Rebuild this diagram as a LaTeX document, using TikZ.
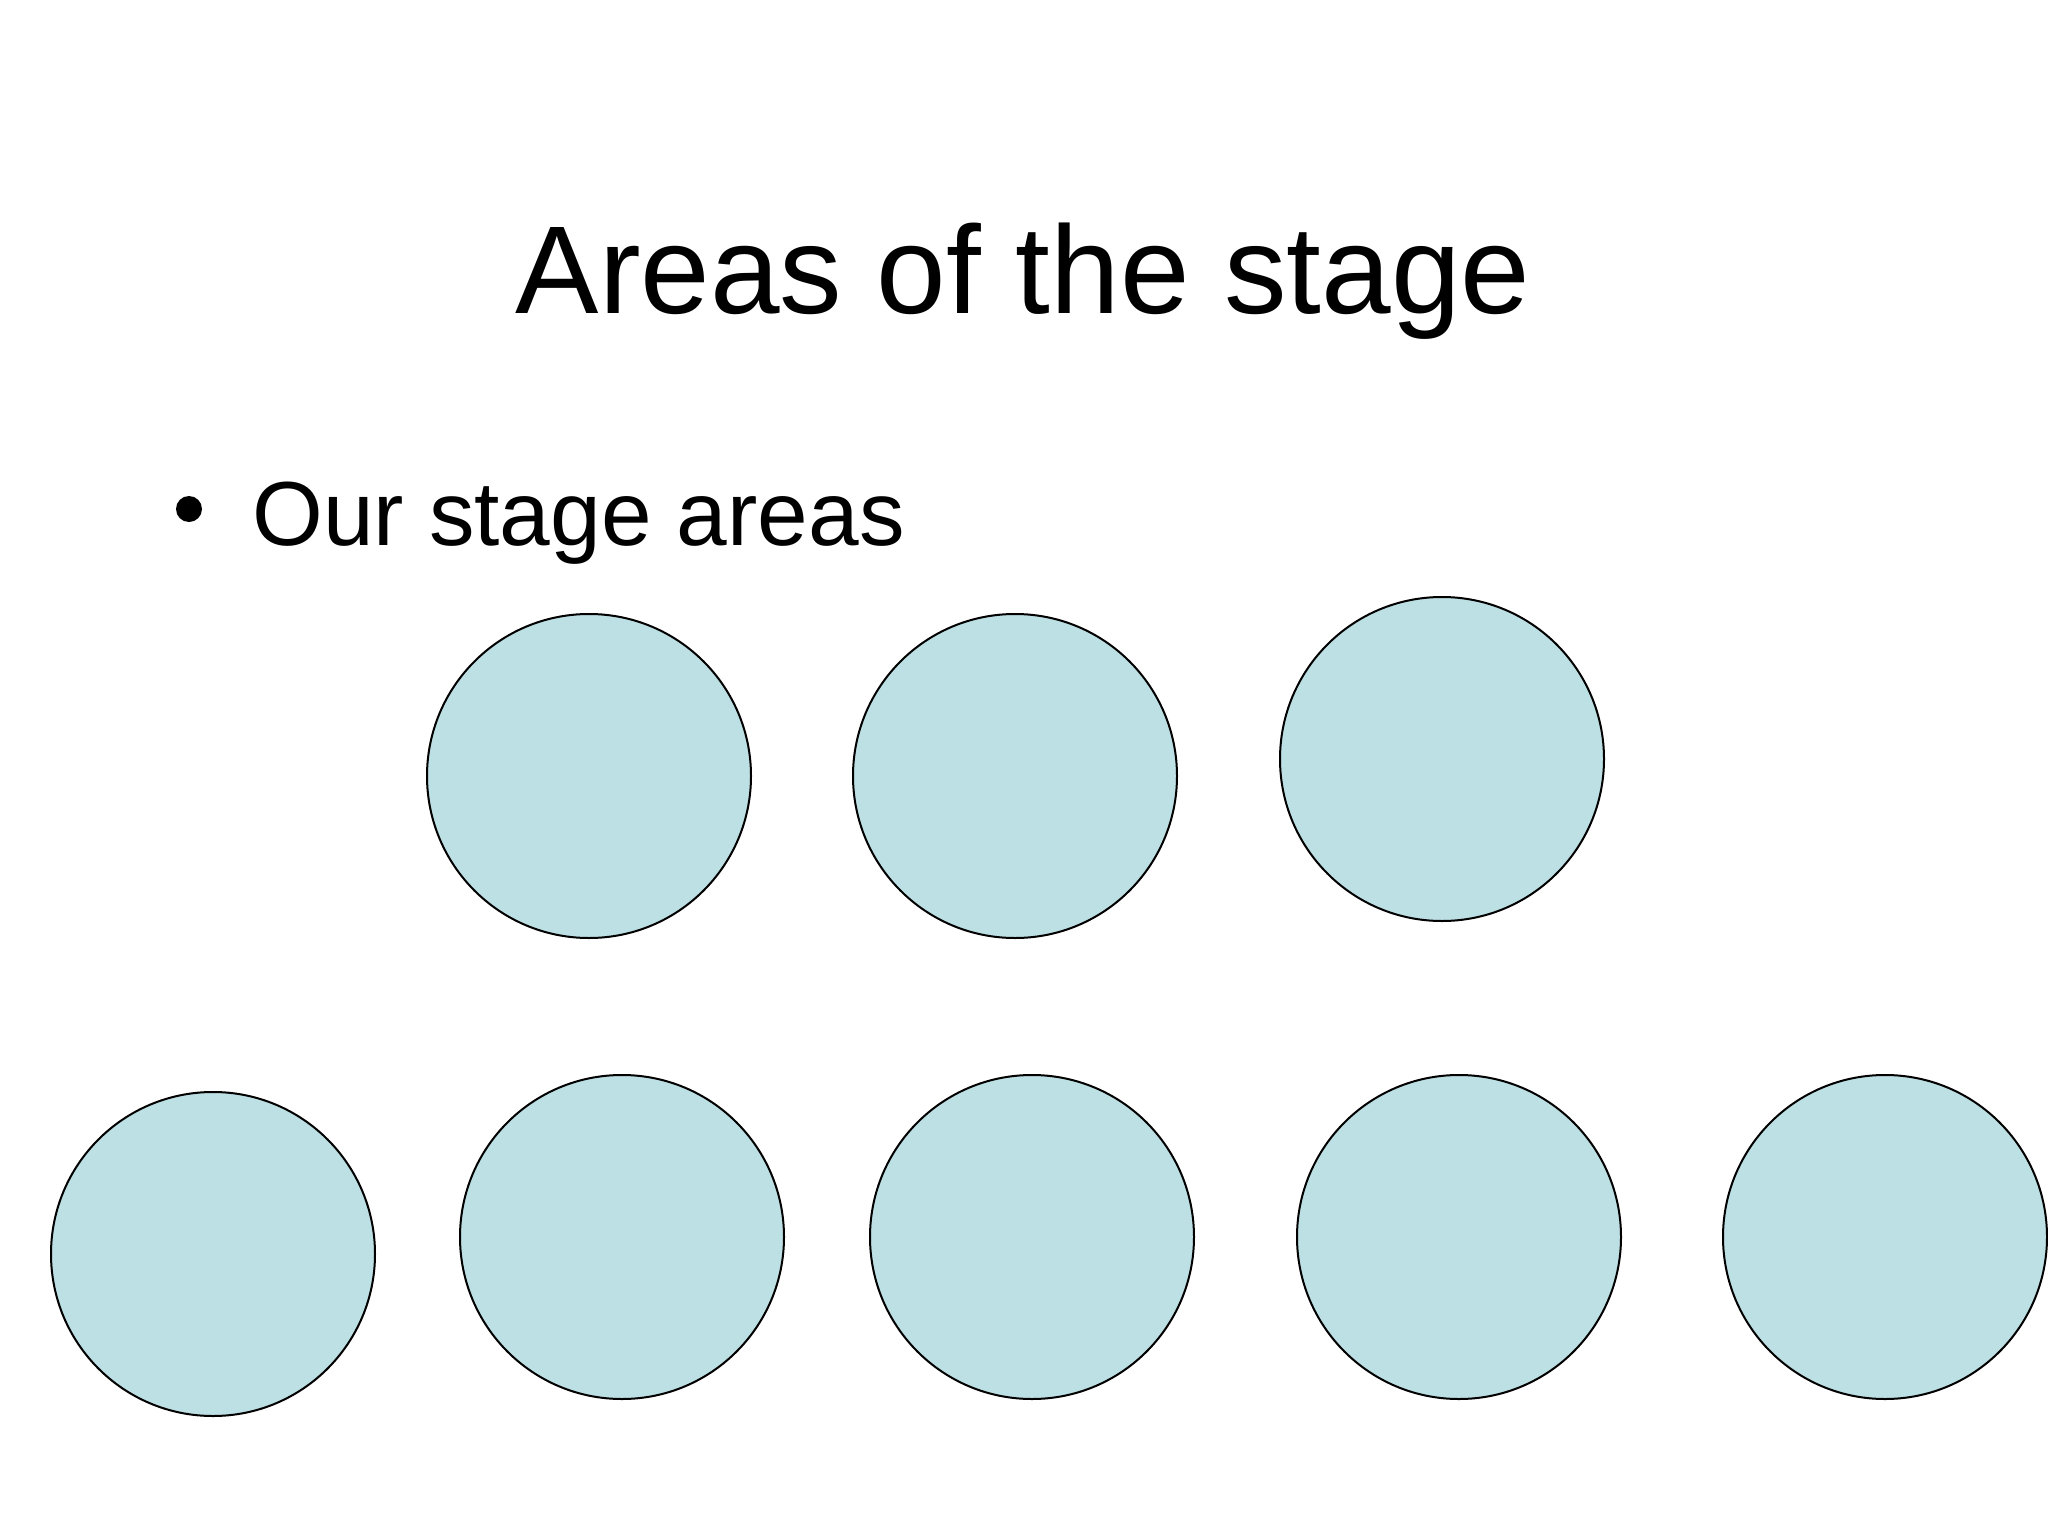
\documentclass[tikz,border=0pt]{standalone}
\usepackage{fontspec}
\setmainfont{Liberation Sans}
\definecolor{areafill}{RGB}{189,224,228}
\tikzset{
  area/.style={circle, draw=black, line width=2pt, fill=areafill, minimum size=324pt, inner sep=0pt},
  titletext/.style={font=\fontsize{125}{125}\selectfont, anchor=base, inner sep=0pt},
  bodytext/.style={font=\fontsize{91}{91}\selectfont, anchor=base west, inner sep=0pt}
}
\begin{document}
\begin{tikzpicture}[x=1pt,y=-1pt]
\useasboundingbox[fill=white] (0,0) rectangle (2048,1536);
\node[titletext] (title) at (1023,313) {Areas of the stage};
\fill (189,509) circle (13) coordinate (bullet);
\node[bodytext] (body) at (252,545) {Our stage areas};
% top row
\node[area] (t1) at (589,776) {};
\node[area] (t2) at (1015,776) {};
\node[area] (t3) at (1442,759) {};
% bottom row
\node[area] (b1) at (213,1254) {};
\node[area] (b2) at (622,1237) {};
\node[area] (b3) at (1032,1237) {};
\node[area] (b4) at (1459,1237) {};
\node[area] (b5) at (1885,1237) {};
\end{tikzpicture}
\end{document}
